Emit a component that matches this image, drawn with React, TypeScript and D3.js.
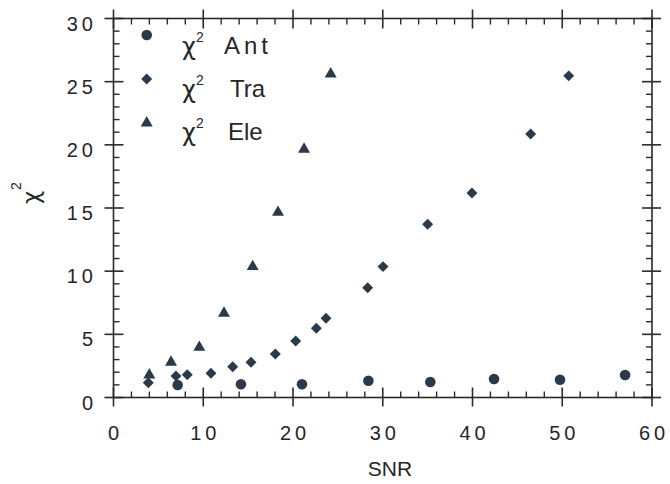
import React from "react";
import * as d3 from "d3";

const antSNR = [7.15, 14.2, 21.0, 28.4, 35.3, 42.4, 49.75, 57.0];
const antChi = [0.99, 1.05, 1.05, 1.33, 1.23, 1.46, 1.41, 1.78];

const traSNR = [3.88, 6.96, 8.22, 10.86, 13.28, 15.32, 18.03, 20.3, 22.6, 23.68, 28.32, 30.03, 35.0, 39.94, 46.48, 50.72];
const traChi = [1.17, 1.7, 1.8, 1.92, 2.44, 2.79, 3.44, 4.47, 5.48, 6.27, 8.69, 10.36, 13.71, 16.19, 20.86, 25.46];

const eleSNR = [3.99, 6.41, 9.56, 12.31, 15.51, 18.33, 21.23, 24.2];
const eleChi = [1.78, 2.79, 3.97, 6.67, 10.36, 14.66, 19.65, 25.61];

const xTicks = [0, 10, 20, 30, 40, 50, 60];
const yTicks = [0, 5, 10, 15, 20, 25, 30];
const legendNames = ["Ant", "Tra", "Ele"];

const W = 670;
const H = 484;
const MARK = "#2b3a4a";
const AX = "#2a2a2a";
const TXT = "#262626";
const FONT = "'Liberation Sans', Arial, Helvetica, sans-serif";
const CHI = "'DejaVu Sans', 'Noto Sans', sans-serif";

export default function App() {
  const x = d3.scaleLinear().domain([0, 60]).range([113.5, 652]);
  const y = d3.scaleLinear().domain([0, 30]).range([397.5, 18.5]);
  const [x0, x1] = x.range();
  const [y0, y1] = y.range();

  const circle = d3.symbol().type(d3.symbolCircle).size(88)();
  const diamond = d3.symbol().type(d3.symbolSquare).size(60)();
  const triangle = d3.symbol().type(d3.symbolTriangle).size(62)();

  const xMinor = d3.range(0, 61, 2).filter((v) => v % 10 !== 0);
  const yMinor = d3.range(0, 31, 1).filter((v) => v % 5 !== 0);

  const majIn = 10;
  const majOut = 9;
  const minIn = 6;

  const series = [
    { xs: antSNR, ys: antChi, path: circle, rot: 0 },
    { xs: traSNR, ys: traChi, path: diamond, rot: 45 },
    { xs: eleSNR, ys: eleChi, path: triangle, rot: 0 },
  ];

  const legendMarkerY = [35, 79, 123];
  const legendPaths = [circle, diamond, triangle];
  const legendRot = [0, 45, 0];
  const legendTextX = [224, 230, 228];
  const legendSpacing = [4, 0, 0];

  return (
    <svg width={W} height={H} style={{ position: "absolute", left: 0, top: 0, background: "#fff" }}>
      <rect x={0} y={0} width={W} height={H} fill="#fff" />
      <rect x={x0} y={y1} width={x1 - x0} height={y0 - y1} fill="none" stroke={AX} strokeWidth={1.6} />
      {xTicks.map((t) => (
        <g key={"xt" + t}>
          <line x1={x(t)} x2={x(t)} y1={y0 - majIn} y2={y0 + majOut} stroke={AX} strokeWidth={1.6} />
          <line x1={x(t)} x2={x(t)} y1={y1 - majOut} y2={y1 + majIn} stroke={AX} strokeWidth={1.6} />
          <text x={x(t) + 2} y={440} textAnchor="middle" fontFamily={FONT} fontSize={20} letterSpacing={4} fill={TXT}>
            {t}
          </text>
        </g>
      ))}
      {xMinor.map((t) => (
        <g key={"xm" + t}>
          <line x1={x(t)} x2={x(t)} y1={y0 - minIn} y2={y0} stroke={AX} strokeWidth={1.4} />
          <line x1={x(t)} x2={x(t)} y1={y1} y2={y1 + minIn} stroke={AX} strokeWidth={1.4} />
        </g>
      ))}
      {yTicks.map((t) => (
        <g key={"yt" + t}>
          <line x1={x0 - majOut} x2={x0 + majIn} y1={y(t)} y2={y(t)} stroke={AX} strokeWidth={1.6} />
          <line x1={x1 - majIn} x2={x1 + majOut} y1={y(t)} y2={y(t)} stroke={AX} strokeWidth={1.6} />
          <text x={97} y={y(t) + 12} textAnchor="end" fontFamily={FONT} fontSize={20} letterSpacing={4} fill={TXT}>
            {t}
          </text>
        </g>
      ))}
      {yMinor.map((t) => (
        <g key={"ym" + t}>
          <line x1={x0} x2={x0 + minIn} y1={y(t)} y2={y(t)} stroke={AX} strokeWidth={1.4} />
          <line x1={x1 - minIn} x2={x1} y1={y(t)} y2={y(t)} stroke={AX} strokeWidth={1.4} />
        </g>
      ))}
      {series.map((s, si) =>
        s.xs.map((v, i) => (
          <path
            key={si + "-" + i}
            d={s.path || ""}
            transform={`translate(${x(v)},${y(s.ys[i])}) rotate(${s.rot})`}
            fill={MARK}
          />
        ))
      )}
      {legendNames.map((name, i) => (
        <g key={"lg" + name}>
          <path d={legendPaths[i] || ""} transform={`translate(146.7,${legendMarkerY[i]}) rotate(${legendRot[i]})`} fill={MARK} />
          <text x={182} y={55 + 43 * i} fontFamily={CHI} fontSize={24} fill={TXT}>
            χ
          </text>
          <text x={196} y={42 + 43 * i} fontFamily={FONT} fontSize={14} fill={TXT}>
            2
          </text>
          <text x={legendTextX[i]} y={54 + 43 * i} fontFamily={FONT} fontSize={24} letterSpacing={legendSpacing[i]} fill={TXT}>
            {name}
          </text>
        </g>
      ))}
      <text x={390} y={476} textAnchor="middle" fontFamily={FONT} fontSize={21} fill={TXT}>
        SNR
      </text>
      <g transform="translate(39,204) rotate(-90)">
        <text x={0} y={0} fontFamily={CHI} fontSize={23} fill={TXT}>
          χ
        </text>
        <text x={14} y={-18} fontFamily={FONT} fontSize={14} fill={TXT}>
          2
        </text>
      </g>
    </svg>
  );
}
